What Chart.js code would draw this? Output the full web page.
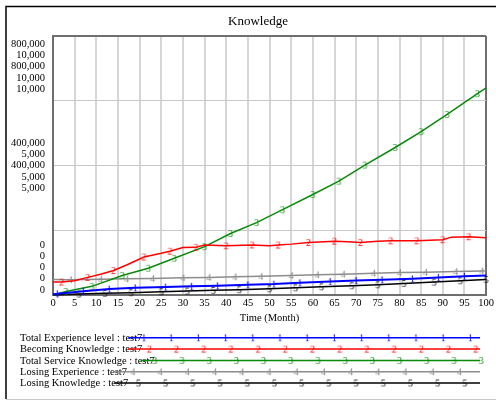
<!DOCTYPE html>
<html>
<head>
<meta charset="utf-8">
<script src="https://cdn.jsdelivr.net/npm/chart.js@4/dist/chart.umd.min.js"></script>
<style>
  html, body { margin: 0; padding: 0; background: #fff; }
</style>
</head>
<body>
<canvas id="knowledge" width="496" height="401"></canvas>
<script>
const runName = 'test7';
const seriesNames = ['Total Experience level', 'Becoming Knowledge', 'Total Service Knowledge', 'Losing Experience', 'Losing Knowledge'];
const seriesColors = ['#0000ff', '#ff0000', '#0a8a0a', '#8c8c8c', '#000000'];
const seriesWidths = [2, 1.5, 1.5, 1.5, 1.5];
const seriesMax = [800000, 10000, 800000, 10000, 10000];
const labelFractions = [1, 0.5, 0];

// Total Experience level
const expTime = [0, 1, 7, 13, 19, 26, 32, 38, 45, 51, 57, 64, 70, 76, 83, 89, 95, 100];
const expLevel = [2500, 3500, 11300, 18400, 22400, 24500, 26700, 28500, 31600, 33700, 37700, 42000, 45100, 46900, 50000, 54300, 58200, 60400];
const expMarks = [1, 7, 13, 19, 26, 32, 38, 45, 51, 57, 64, 70, 76, 83, 89, 95];

// Becoming Knowledge
const becTime = [0, 2, 5, 8, 11, 14, 17, 20, 21, 25, 27, 30, 33, 35, 40, 46, 50, 52, 55, 59, 65, 68, 71, 75, 78, 84, 90, 92, 96, 100];
const becKnow = [500, 500, 550, 680, 805, 945, 1160, 1390, 1470, 1610, 1690, 1830, 1840, 1930, 1900, 1935, 1900, 1930, 1965, 2030, 2080, 2055, 2030, 2080, 2095, 2095, 2135, 2235, 2250, 2210];
const becMarks = [2, 8, 14, 21, 27, 33, 40, 46, 52, 59, 65, 71, 78, 84, 90, 96];

// Total Service Knowledge
const svcTime = [0, 3, 9, 16, 22, 28, 35, 41, 47, 53, 60, 66, 72, 79, 85, 91, 98, 100];
const svcKnow = [0, 11000, 26700, 60400, 82800, 113400, 149300, 190000, 223700, 263600, 310500, 351600, 401500, 455800, 504800, 557800, 622200, 639700];
const svcMarks = [3, 9, 16, 22, 28, 35, 41, 47, 53, 60, 66, 72, 79, 85, 91, 98];

// Losing Experience
const lexTime = [0, 4, 11, 17, 23, 30, 36, 42, 48, 55, 61, 67, 74, 80, 86, 93, 99, 100];
const lexVal = [600, 590, 613, 625, 640, 663, 678, 701, 720, 755, 778, 805, 843, 870, 881, 908, 931, 935];
const lexMarks = [4, 11, 17, 23, 30, 36, 42, 48, 55, 61, 67, 74, 80, 86, 93, 99];

// Losing Knowledge
const lknTime = [0, 6, 12, 18, 25, 31, 37, 43, 50, 56, 62, 69, 75, 81, 88, 94, 100];
const lknVal = [0, 38, 65, 88, 126, 153, 180, 203, 241, 280, 318, 356, 395, 448, 498, 548, 601];
const lknMarks = [6, 12, 18, 25, 31, 37, 43, 50, 56, 62, 69, 75, 81, 88, 94, 100];

const seriesTimes = [expTime, becTime, svcTime, lexTime, lknTime];
const seriesValues = [expLevel, becKnow, svcKnow, lexVal, lknVal];
const seriesMarks = [expMarks, becMarks, svcMarks, lexMarks, lknMarks];

const serif = '"Liberation Serif", "Times New Roman", serif';
Chart.defaults.font.family = serif;
Chart.defaults.color = '#000';

// digit markers, vensim style
function markerImage(digit, color) {
  const c = document.createElement('canvas');
  c.width = 9; c.height = 11;
  const g = c.getContext('2d');
  g.fillStyle = color;
  g.font = '10px ' + serif;
  g.textAlign = 'center';
  g.textBaseline = 'middle';
  g.fillText(String(digit), 4.5, 6);
  return c;
}
const markers = seriesColors.map((c, i) => markerImage(i + 1, c));

const frame = {
  id: 'frame',
  beforeDraw(chart) {
    const g = chart.ctx;
    g.save();
    g.fillStyle = '#fff';
    g.fillRect(0, 0, chart.width, chart.height);
    g.restore();
  },
  afterDraw(chart) {
    const g = chart.ctx;
    g.save();
    g.strokeStyle = '#000'; g.lineWidth = 1.5;
    g.beginPath();
    g.moveTo(6, 399); g.lineTo(6, 6.5); g.lineTo(496, 6.5);
    g.stroke();
    g.strokeStyle = '#c8c8c8'; g.lineWidth = 1;
    g.beginPath(); g.moveTo(6, 399.5); g.lineTo(496, 399.5); g.stroke();
    g.restore();
  }
};

// stacked per-series value labels on the left
const axisLabels = {
  id: 'axisLabels',
  afterDraw(chart) {
    const g = chart.ctx, area = chart.chartArea, ys = chart.scales.y0;
    const lh = 11.3;
    g.save();
    g.font = '10.5px ' + serif;
    g.fillStyle = '#000'; g.textAlign = 'right'; g.textBaseline = 'middle';
    labelFractions.forEach(f => {
      const lines = seriesMax.map(m => (m * f).toLocaleString('en-US'));
      const py = ys.getPixelForValue(seriesMax[0] * f);
      let first = py - (lines.length - 1) * lh / 2;
      first = Math.max(first, area.top + 8);
      first = Math.min(first, area.bottom - 5 - (lines.length - 1) * lh);
      lines.forEach((s, i) => g.fillText(s, area.left - 8, first + i * lh));
    });
    g.restore();
  }
};

const runLegend = {
  id: 'runLegend',
  afterDraw(chart) {
    const g = chart.ctx;
    g.save();
    g.font = '10.5px ' + serif;
    g.textBaseline = 'middle';
    seriesNames.forEach((name, i) => {
      const y = 338.3 + i * 11.3;
      const label = name + ' : ' + runName;
      g.fillStyle = '#000'; g.textAlign = 'left';
      g.fillText(label, 20, y);
      const start = 20 + g.measureText(label).width - 14;
      g.strokeStyle = seriesColors[i]; g.lineWidth = 1.5;
      g.beginPath(); g.moveTo(start, y - 0.5); g.lineTo(480, y - 0.5); g.stroke();
      for (let x = 144 + 5.4 * i - 27.2; x <= 482; x += 27.2) {
        if (x < start + 5) continue;
        g.drawImage(markers[i], x - 4.5, y - 6);
      }
    });
    g.restore();
  }
};

const datasets = seriesNames.map((name, i) => ({
  label: name + ' : ' + runName,
  data: seriesTimes[i].map((t, j) => ({ x: t, y: seriesValues[i][j] })),
  yAxisID: 'y' + i,
  borderColor: seriesColors[i],
  backgroundColor: seriesColors[i],
  borderWidth: seriesWidths[i],
  fill: false,
  tension: 0,
  clip: 4,
  pointStyle: markers[i],
  pointRadius: ctx => (ctx.raw && seriesMarks[i].includes(ctx.raw.x)) ? 3 : 0,
  pointHoverRadius: 0
}));

const gridDark = '#6e6e6e';
const scales = {
  x: {
    type: 'linear', position: 'bottom', min: 0, max: 100,
    ticks: { stepSize: 5, font: { size: 10.5 }, color: '#000', padding: 2 },
    grid: {
      drawTicks: false,
      color: ctx => (ctx.tick && ctx.tick.value === 100) ? gridDark : '#d6d6d6',
      lineWidth: 2
    },
    border: { color: gridDark, width: 2 },
    title: { display: true, text: 'Time (Month)', font: { size: 10.5 }, color: '#000', padding: { top: 0, bottom: 0 } }
  },
  y0: {
    type: 'linear', position: 'left', min: 0, max: seriesMax[0],
    ticks: { display: false, stepSize: seriesMax[0] / 4 },
    grid: {
      drawTicks: false,
      color: ctx => (ctx.tick && ctx.tick.value === seriesMax[0]) ? gridDark : '#c8c8c8',
      lineWidth: ctx => (ctx.tick && ctx.tick.value === seriesMax[0]) ? 2 : 1
    },
    border: { color: gridDark, width: 2 },
    afterFit(s) { s.width = 29; }
  }
};
for (let i = 1; i < seriesMax.length; i++) {
  scales['y' + i] = { type: 'linear', display: false, min: 0, max: seriesMax[i] };
}

new Chart(document.getElementById('knowledge'), {
  type: 'line',
  data: { datasets: datasets },
  options: {
    responsive: false,
    animation: false,
    events: [],
    layout: { padding: { top: 6, left: 24, right: 4, bottom: 76.8 } },
    scales: scales,
    plugins: {
      legend: { display: false },
      tooltip: { enabled: false },
      title: {
        display: true, text: 'Knowledge', color: '#000',
        font: { size: 13, weight: 'normal' },
        padding: { top: 7.5, bottom: 7 }
      }
    }
  },
  plugins: [frame, axisLabels, runLegend]
});
</script>
</body>
</html>
